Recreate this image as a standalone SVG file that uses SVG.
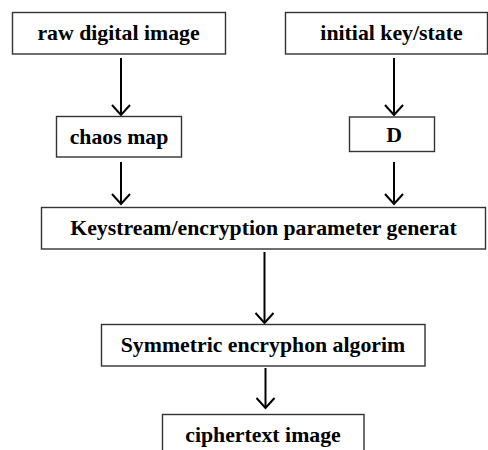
<svg xmlns="http://www.w3.org/2000/svg" width="488" height="450" viewBox="0 0 488 450">
<style>
.box{fill:#fff;stroke:#333;stroke-width:1.4}
.lbl{font-family:"Times New Roman","Liberation Serif","DejaVu Serif",serif;font-weight:bold;font-size:21.8px;fill:#000;text-anchor:middle}
.edge{stroke:#000;stroke-width:2;fill:none}
</style>
<defs>
<marker id="arr" markerWidth="20" markerHeight="20" refX="11" refY="10" markerUnits="userSpaceOnUse" orient="auto" viewBox="0 0 20 20">
<path d="M1,1 L11,10 L1,19" fill="none" stroke="#000" stroke-width="2"/>
</marker>
</defs>
<rect width="488" height="450" fill="#fff"/>
<g id="connectors">
<line class="edge" x1="121" y1="58" x2="121" y2="115" marker-end="url(#arr)"/>
<line class="edge" x1="394" y1="58" x2="394" y2="115" marker-end="url(#arr)"/>
<line class="edge" x1="121" y1="162" x2="121" y2="204" marker-end="url(#arr)"/>
<line class="edge" x1="394" y1="162" x2="394" y2="204" marker-end="url(#arr)"/>
<line class="edge" x1="264.5" y1="252" x2="264.5" y2="323" marker-end="url(#arr)"/>
<line class="edge" x1="265.5" y1="368" x2="265.5" y2="408" marker-end="url(#arr)"/>
</g>
<g id="raw">
<rect class="box" x="12.5" y="12.5" width="213" height="41.5"/>
<text class="lbl" x="118.5" y="40">raw digital image</text>
</g>
<g id="key">
<rect class="box" x="285.5" y="12.5" width="202" height="41.5"/>
<text class="lbl" x="391.5" y="40">initial key/state</text>
</g>
<g id="chaos">
<rect class="box" x="56.5" y="116.5" width="125" height="40.5"/>
<text class="lbl" x="119" y="143.5">chaos map</text>
</g>
<g id="d">
<rect class="box" x="349.5" y="117" width="85" height="34.5"/>
<text class="lbl" x="394" y="142">D</text>
</g>
<g id="keystream">
<rect class="box" x="41.5" y="207.5" width="444" height="41.5"/>
<text class="lbl" x="263.5" y="235">Keystream/encryption parameter generat</text>
</g>
<g id="sym">
<rect class="box" x="101.5" y="324.5" width="323.5" height="41.5"/>
<text class="lbl" x="263" y="352">Symmetric encryphon algorim</text>
</g>
<g id="cipher">
<rect class="box" x="162.5" y="414.5" width="201.5" height="41.5"/>
<text class="lbl" x="263" y="441.5">ciphertext image</text>
</g>
</svg>
